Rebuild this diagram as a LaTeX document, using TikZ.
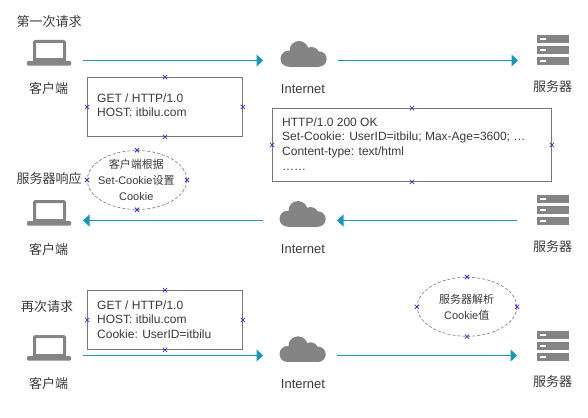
\documentclass[tikz,border=0pt]{standalone}
\usepackage{fontspec}
\setmainfont{Liberation Sans}
\newfontfamily\cjk{Noto Sans CJK SC}
\usetikzlibrary{arrows.meta,shapes.geometric,shapes.misc}
\definecolor{icongray}{HTML}{848484}
\definecolor{flowblue}{HTML}{1596BE}
\definecolor{textgray}{HTML}{3A3A3A}
\definecolor{edgegray}{HTML}{777777}
\definecolor{handleblue}{HTML}{3A2FD0}
\tikzset{
  x=1pt,y=-1pt,
  txt/.style={inner sep=0pt,text=textgray,font=\fontsize{13}{15}\selectfont},
  boxtxt/.style={inner sep=0pt,text=textgray,anchor=west,align=left,font=\fontsize{12}{14.7}\selectfont},
  elltxt/.style={inner sep=0pt,text=textgray,align=center,font=\fontsize{11}{16}\selectfont},
  msgbox/.style={draw=edgegray,line width=0.8pt,rectangle,inner sep=0pt},
  noteell/.style={draw=edgegray,line width=0.6pt,densely dashed,ellipse,inner sep=0pt},
  handle/.style={draw=handleblue,cross out,line width=0.8pt,minimum size=3.5pt,inner sep=0pt},
  anchorbar/.style={inner sep=0pt,minimum height=1pt,outer sep=0pt},
  flow/.style={draw=flowblue,line width=1.1pt,-{Triangle[length=6.5pt,width=12pt]}},
  laptop/.pic={
    \draw[icongray,line width=3pt,rounded corners=1pt] (34.5,60) -- (34.5,41.5) -- (64.5,41.5) -- (64.5,60);
    \fill[icongray] (33,58.5) rectangle (66,62);
    \fill[icongray,rounded corners=1pt] (27,61) -- (71,61) -- (71,65.7) -- (27,65.7) -- cycle;
  },
  cloudicon/.pic={
    \fill[icongray] (288.5,58.7) circle (8);
    \fill[icongray] (299,50.5) circle (9.5);
    \fill[icongray] (311.5,55) circle (8);
    \fill[icongray] (319,59) circle (7.7);
    \fill[icongray] (288.5,55) rectangle (319,66.7);
  },
  servericon/.pic={
    \foreach \yy in {35,46,57}{
      \fill[icongray] (537,\yy) rectangle (569,\yy+8);
      \fill[white] (539.5,\yy+3) rectangle (546,\yy+5);
    }
  }
}
\newcommand{\handles}[1]{\foreach \aa in {north,south,east,west}{\node[handle] at (#1.\aa) {};}}
\begin{document}
\begin{tikzpicture}
\useasboundingbox (0,0) rectangle (588,417);
% icons
\foreach \off in {0,160,295}{
  \pic at (0,\off) {laptop};
}
\pic at (0,0) {cloudicon};
\pic at (-1,160) {cloudicon};
\pic at (-1,295.3) {cloudicon};
\pic at (0,0) {servericon};
\pic at (0,160) {servericon};
\pic at (0,295.5) {servericon};
% anchors for the connectors
\node[anchorbar,minimum width=68pt] (lapA) at (49,60.5) {};
\node[anchorbar,minimum width=75pt] (cloudA) at (300.5,60.5) {};
\node[anchorbar,minimum width=68pt] (srvA) at (552,60.5) {};
\node[anchorbar,minimum width=68pt] (lapB) at (49,220.5) {};
\node[anchorbar,minimum width=74pt] (cloudB) at (300,220.5) {};
\node[anchorbar,minimum width=70pt] (srvB) at (552,220.5) {};
\node[anchorbar,minimum width=68pt] (lapC) at (49,355.5) {};
\node[anchorbar,minimum width=74pt] (cloudC) at (300,355.5) {};
\node[anchorbar,minimum width=70pt] (srvC) at (552,355.5) {};
% connectors
\draw[flow] (lapA.east) -- (cloudA.west);
\draw[flow] (cloudA.east) -- (srvA.west);
\draw[flow] (srvB.west) -- (cloudB.east);
\draw[flow] (cloudB.west) -- (lapB.east);
\draw[flow] (lapC.east) -- (cloudC.west);
\draw[flow] (cloudC.east) -- (srvC.west);
% labels
\node[txt] (t1) at (49,22) {\cjk 第一次请求};
\node[txt] (t2) at (49,179) {\cjk 服务器响应};
\node[txt] (t3) at (47,307) {\cjk 再次请求};
\foreach \n/\yc/\ys/\yi in {a/89/87/89,b/249.5/247/249.5,c/384/381.5/384}{
  \node[txt] (client\n) at (48.5,\yc) {\cjk 客户端};
  \node[txt] (net\n) at (303,\yi) {Internet};
  \node[txt] (server\n) at (552.5,\ys) {\cjk 服务器};
}
% message boxes
\node[msgbox,minimum width=155pt,minimum height=59pt] (boxA) at (165,107) {};
\node[boxtxt] (boxAt) at (97,105.2) {GET / HTTP/1.0\\HOST: itbilu.com};
\node[msgbox,minimum width=279pt,minimum height=73pt] (boxB) at (412,145) {};
\node[boxtxt] (boxBt) at (282,144) {HTTP/1.0 200 OK\\Set-Cookie: UserID=itbilu; Max-Age=3600; …\\Content-type: text/html\\……};
\node[msgbox,minimum width=155pt,minimum height=59pt] (boxC) at (165,320) {};
\node[boxtxt] (boxCt) at (97,319.7) {GET / HTTP/1.0\\HOST: itbilu.com\\Cookie: UserID=itbilu};
% notes
\node[noteell,minimum width=99.5pt,minimum height=59pt] (noteA) at (137,180) {};
\node[elltxt] (noteAt) at (136.3,180) {{\cjk 客户端根据}\\Set-Cookie{\cjk 设置}\\Cookie};
\node[noteell,minimum width=99.5pt,minimum height=59pt] (noteB) at (467,306.8) {};
\node[elltxt] (noteBt) at (466.7,307) {{\cjk 服务器解析}\\Cookie{\cjk 值}};
% handles
\handles{boxA}
\handles{boxB}
\handles{boxC}
\handles{noteA}
\handles{noteB}
\end{tikzpicture}
\end{document}
